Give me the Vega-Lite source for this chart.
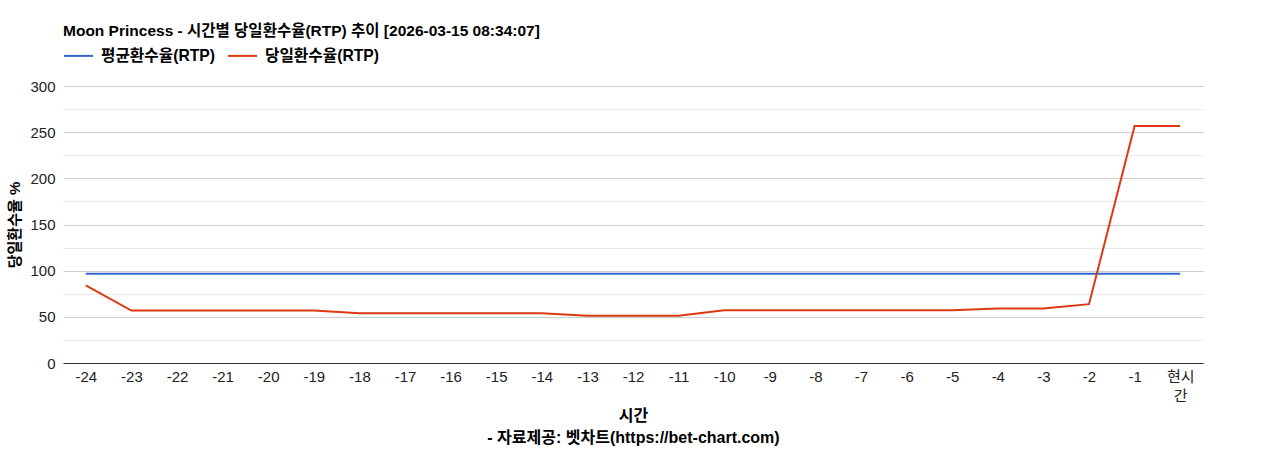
{
  "$schema": "https://vega.github.io/schema/vega-lite/v6.json",
  "width": 1140,
  "height": 277,
  "autosize": "none",
  "padding": {"left": 63, "top": 86, "right": 65, "bottom": 87},
  "background": "white",
  "title": {
    "text": "Moon Princess - 시간별 당일환수율(RTP) 추이 [2026-03-15 08:34:07]",
    "anchor": "start",
    "frame": "group",
    "font": "Liberation Sans, Noto Sans CJK KR",
    "fontSize": 15.5,
    "fontWeight": "bold",
    "color": "#000000",
    "offset": 8,
    "dy": 7
  },
  "data": {
    "values": [
      {"hour": "-24", "series": "평균환수율(RTP)", "rtp": 96.7},
      {"hour": "-23", "series": "평균환수율(RTP)", "rtp": 96.7},
      {"hour": "-22", "series": "평균환수율(RTP)", "rtp": 96.7},
      {"hour": "-21", "series": "평균환수율(RTP)", "rtp": 96.7},
      {"hour": "-20", "series": "평균환수율(RTP)", "rtp": 96.7},
      {"hour": "-19", "series": "평균환수율(RTP)", "rtp": 96.7},
      {"hour": "-18", "series": "평균환수율(RTP)", "rtp": 96.7},
      {"hour": "-17", "series": "평균환수율(RTP)", "rtp": 96.7},
      {"hour": "-16", "series": "평균환수율(RTP)", "rtp": 96.7},
      {"hour": "-15", "series": "평균환수율(RTP)", "rtp": 96.7},
      {"hour": "-14", "series": "평균환수율(RTP)", "rtp": 96.7},
      {"hour": "-13", "series": "평균환수율(RTP)", "rtp": 96.7},
      {"hour": "-12", "series": "평균환수율(RTP)", "rtp": 96.7},
      {"hour": "-11", "series": "평균환수율(RTP)", "rtp": 96.7},
      {"hour": "-10", "series": "평균환수율(RTP)", "rtp": 96.7},
      {"hour": "-9", "series": "평균환수율(RTP)", "rtp": 96.7},
      {"hour": "-8", "series": "평균환수율(RTP)", "rtp": 96.7},
      {"hour": "-7", "series": "평균환수율(RTP)", "rtp": 96.7},
      {"hour": "-6", "series": "평균환수율(RTP)", "rtp": 96.7},
      {"hour": "-5", "series": "평균환수율(RTP)", "rtp": 96.7},
      {"hour": "-4", "series": "평균환수율(RTP)", "rtp": 96.7},
      {"hour": "-3", "series": "평균환수율(RTP)", "rtp": 96.7},
      {"hour": "-2", "series": "평균환수율(RTP)", "rtp": 96.7},
      {"hour": "-1", "series": "평균환수율(RTP)", "rtp": 96.7},
      {"hour": "현시간", "series": "평균환수율(RTP)", "rtp": 96.7},
      {"hour": "-24", "series": "당일환수율(RTP)", "rtp": 84.0},
      {"hour": "-23", "series": "당일환수율(RTP)", "rtp": 56.8},
      {"hour": "-22", "series": "당일환수율(RTP)", "rtp": 56.8},
      {"hour": "-21", "series": "당일환수율(RTP)", "rtp": 56.8},
      {"hour": "-20", "series": "당일환수율(RTP)", "rtp": 56.8},
      {"hour": "-19", "series": "당일환수율(RTP)", "rtp": 56.8},
      {"hour": "-18", "series": "당일환수율(RTP)", "rtp": 53.9},
      {"hour": "-17", "series": "당일환수율(RTP)", "rtp": 53.9},
      {"hour": "-16", "series": "당일환수율(RTP)", "rtp": 53.9},
      {"hour": "-15", "series": "당일환수율(RTP)", "rtp": 53.9},
      {"hour": "-14", "series": "당일환수율(RTP)", "rtp": 53.9},
      {"hour": "-13", "series": "당일환수율(RTP)", "rtp": 51.1},
      {"hour": "-12", "series": "당일환수율(RTP)", "rtp": 51.1},
      {"hour": "-11", "series": "당일환수율(RTP)", "rtp": 51.1},
      {"hour": "-10", "series": "당일환수율(RTP)", "rtp": 57.2},
      {"hour": "-9", "series": "당일환수율(RTP)", "rtp": 57.2},
      {"hour": "-8", "series": "당일환수율(RTP)", "rtp": 57.2},
      {"hour": "-7", "series": "당일환수율(RTP)", "rtp": 57.2},
      {"hour": "-6", "series": "당일환수율(RTP)", "rtp": 57.2},
      {"hour": "-5", "series": "당일환수율(RTP)", "rtp": 57.2},
      {"hour": "-4", "series": "당일환수율(RTP)", "rtp": 59.0},
      {"hour": "-3", "series": "당일환수율(RTP)", "rtp": 59.0},
      {"hour": "-2", "series": "당일환수율(RTP)", "rtp": 63.7},
      {"hour": "-1", "series": "당일환수율(RTP)", "rtp": 256.8},
      {"hour": "현시간", "series": "당일환수율(RTP)", "rtp": 256.8}
    ]
  },
  "mark": {"type": "line", "strokeWidth": 2},
  "encoding": {
    "x": {
      "field": "hour",
      "type": "nominal",
      "sort": null,
      "scale": {"type": "point", "padding": 0.5},
      "axis": {
        "title": ["시간", "- 자료제공: 벳차트(https://bet-chart.com)"],
        "titleLineHeight": 22,
        "titlePadding": 4,
        "titleFontSize": 16,
        "labelAngle": 0,
        "labelExpr": "datum.value == '현시간' ? ['현시', '간'] : datum.label",
        "labelLineHeight": 19,
        "labelPadding": 6,
        "ticks": false,
        "grid": false,
        "domainColor": "#333333",
        "domainWidth": 1
      }
    },
    "y": {
      "field": "rtp",
      "type": "quantitative",
      "scale": {"domain": [0, 300], "nice": false},
      "axis": {
        "title": "당일환수율 %",
        "titlePadding": 7,
        "titleFontSize": 15,
        "values": [0, 25, 50, 75, 100, 125, 150, 175, 200, 225, 250, 275, 300],
        "labelExpr": "datum.value % 50 == 0 ? datum.label : ''",
        "labelPadding": 8,
        "ticks": false,
        "domain": false,
        "gridColor": {"condition": {"test": "datum.value % 50 == 0", "value": "#cccccc"}, "value": "#ebebeb"}
      }
    },
    "color": {
      "field": "series",
      "type": "nominal",
      "scale": {"domain": ["평균환수율(RTP)", "당일환수율(RTP)"], "range": ["#3366cc", "#dc3912"]},
      "legend": {
        "title": null,
        "orient": "none",
        "legendX": 0,
        "legendY": -46,
        "direction": "horizontal",
        "symbolType": "stroke",
        "symbolStrokeWidth": 2,
        "symbolSize": 841,
        "labelFontSize": 15.7,
        "labelFontWeight": "bold",
        "labelColor": "#000000",
        "labelOffset": 7,
        "columnPadding": 9
      }
    }
  },
  "config": {
    "view": {"stroke": null},
    "font": "Liberation Sans, Noto Sans CJK KR",
    "axis": {
      "labelFontSize": 15,
      "labelColor": "#222222",
      "titleFontWeight": "bold",
      "titleColor": "#000000",
      "labelFont": "Liberation Sans, Noto Sans CJK KR",
      "titleFont": "Liberation Sans, Noto Sans CJK KR"
    },
    "legend": {"labelFont": "Liberation Sans, Noto Sans CJK KR"}
  }
}
